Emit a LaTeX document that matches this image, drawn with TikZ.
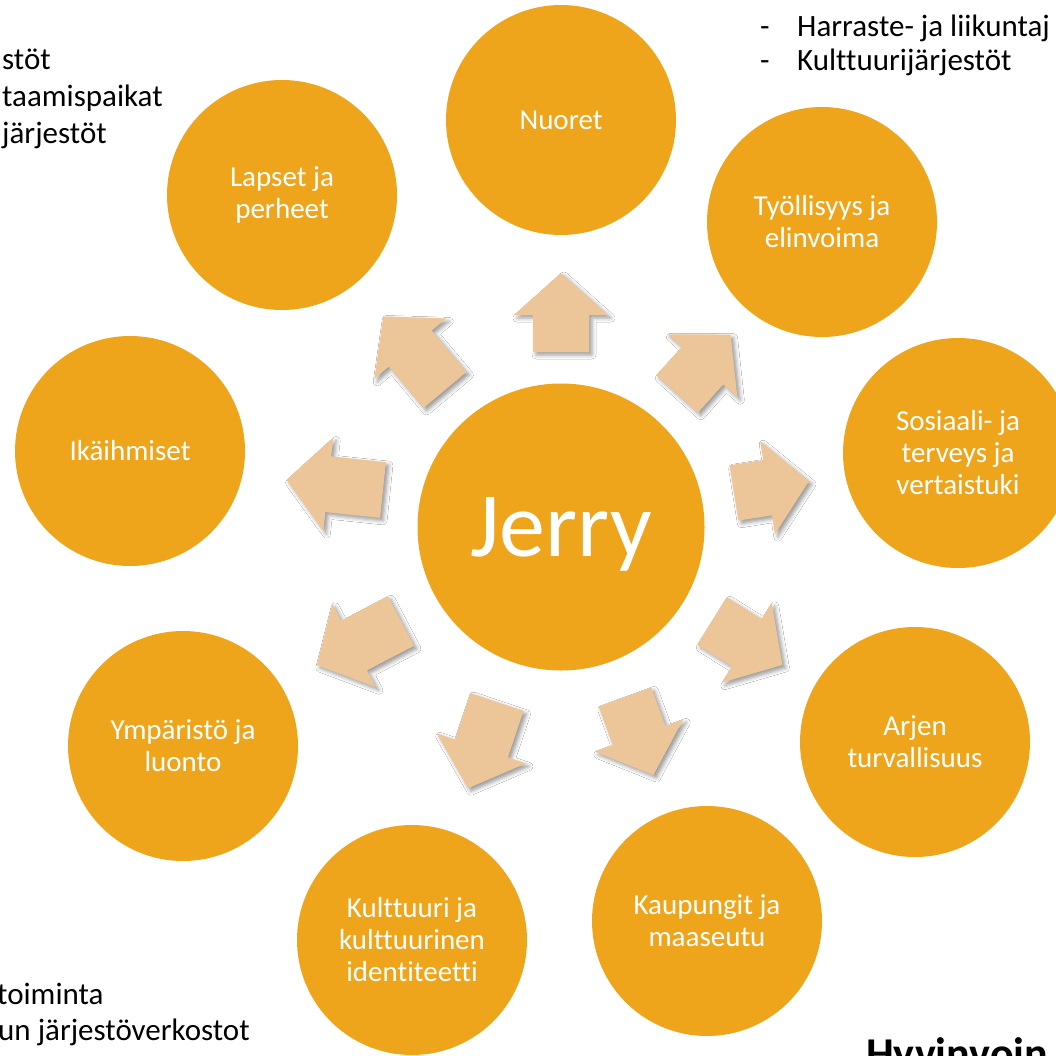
\documentclass[tikz,border=0pt]{standalone}
\usepackage{fontspec}
\setmainfont{Carlito}[Ligatures=NoCommon]
\usetikzlibrary{shadows.blur}
\definecolor{orb}{RGB}{238,165,28}
\definecolor{arw}{RGB}{236,198,152}
\tikzset{
  orb/.style={circle, fill=orb, text=white, align=center, inner sep=0pt,
    minimum size=230pt, font=\fontsize{29}{32}\selectfont},
  blockarrow/.style={fill=arw, draw=none,
    blur shadow={shadow xshift=3pt, shadow yshift=-3pt, shadow blur radius=4pt, shadow opacity=40}},
  sidetext/.style={font=\fontsize{31}{36}\selectfont, anchor=base west, inner sep=0pt, text=black},
}
\newcommand\blockarr[4]{%
  \begin{scope}[shift={(#1,#2)}, rotate=#3]
    \path[blockarrow] (0,-28) -- ({#4-42},-28) -- ({#4-42},-47) -- (#4,0)
      -- ({#4-42},47) -- ({#4-42},28) -- (0,28) -- cycle;
  \end{scope}}
\begin{document}
\begin{tikzpicture}[x=1pt,y=-1pt]
\useasboundingbox (0,0) rectangle (1056,1056);
\clip (0,0) rectangle (1056,1056);
\fill[white] (0,0) rectangle (1056,1056);

% side texts
\node[sidetext] (tl1) at (2,70) {stöt};
\node[sidetext] (tl2) at (2,107) {taamispaikat};
\node[sidetext] (tl3) at (2,144) {järjestöt};
\node[sidetext] (tr1d) at (760,37) {-};
\node[sidetext] (tr1) at (797,37) {Harraste- ja liikuntaj};
\node[sidetext] (tr2d) at (760,71) {-};
\node[sidetext] (tr2) at (797,71) {Kulttuurijärjestöt};
\node[sidetext] (bl1) at (-3,1004) {toiminta};
\node[sidetext] (bl2) at (-2,1040) {un järjestöverkostot};
\node[sidetext, font=\fontsize{44}{50}\selectfont\bfseries] (title) at (866,1068) {Hyvinvoin};

% centre
\node[circle, fill=orb, minimum size=287pt, inner sep=0pt] (jerry) at (561,527) {};
\node[anchor=base, inner sep=0pt, text=white, font=\fontsize{92}{100}\selectfont] (jerrytext) at (561,556) {Jerry};

% outer circles
\node[orb] (lapset) at (282,195) {Lapset ja\\perheet};
\node[orb] (nuoret) at (561,120) {Nuoret};
\node[orb] (tyo) at (822,222) {Työllisyys ja\\elinvoima};
\node[orb] (sote) at (958,453) {Sosiaali- ja\\terveys ja\\vertaistuki};
\node[orb] (arjen) at (915,742) {Arjen\\turvallisuus};
\node[orb] (kaup) at (707,921) {Kaupungit ja\\maaseutu};
\node[orb] (kult) at (412,940) {Kulttuuri ja\\kulttuurinen\\identiteetti};
\node[orb] (ymp) at (183,746) {Ympäristö ja\\luonto};
\node[orb] (ika) at (130,451) {Ikäihmiset};

% arrows
\blockarr{561}{352}{90}{79}
\blockarr{677}{394}{48}{80}
\blockarr{734}{493}{9}{76}
\blockarr{712}{621}{-32}{83}
\blockarr{625}{697}{-70}{83}
\blockarr{497}{702}{-108.6}{91}
\blockarr{401}{621}{207.6}{95}
\blockarr{383}{490}{174}{97}
\blockarr{445}{390}{130}{96}
\end{tikzpicture}
\end{document}
